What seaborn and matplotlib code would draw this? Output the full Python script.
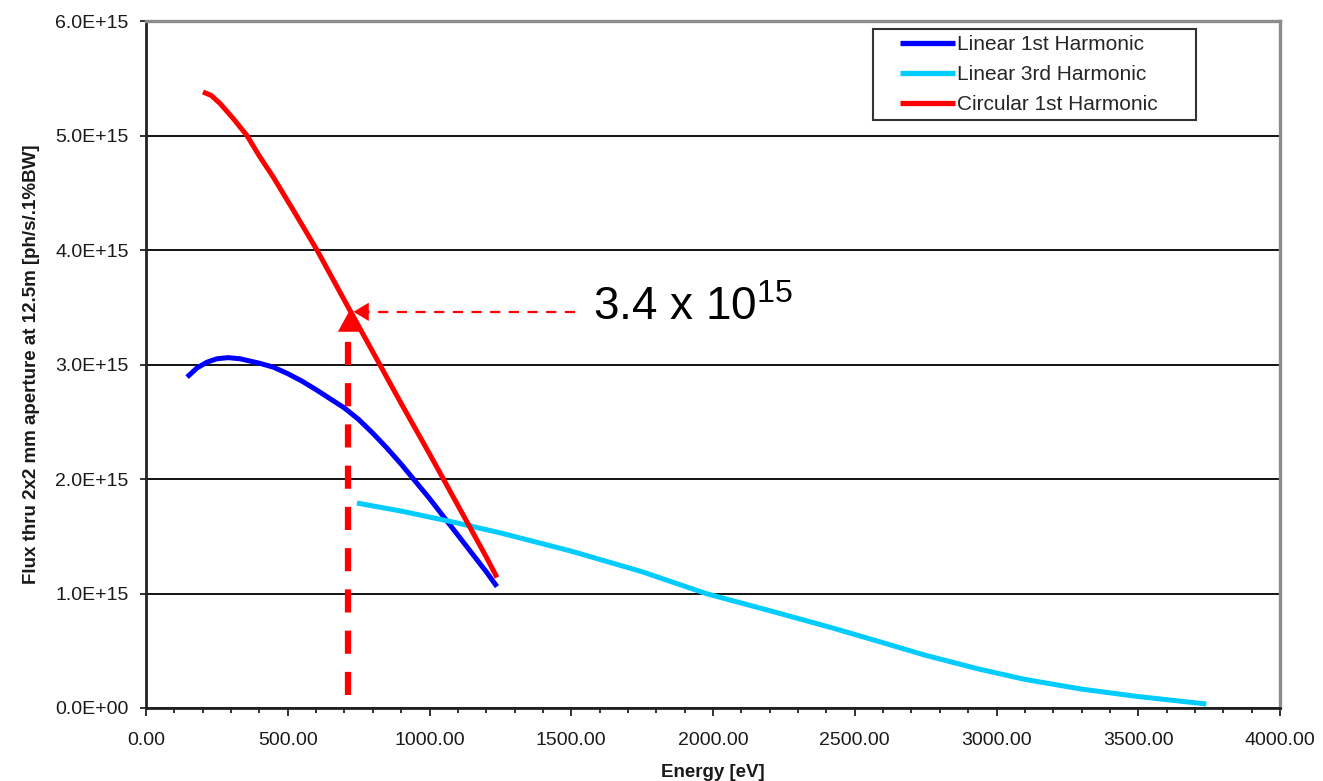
import numpy as np
import pandas as pd
import matplotlib
matplotlib.use("Agg")
import matplotlib.pyplot as plt
from matplotlib.ticker import MultipleLocator, FuncFormatter
from matplotlib.legend_handler import HandlerLine2D
import seaborn as sns

# ---- data ----
lin1_energy = [145, 180, 215, 250, 290, 332, 402, 450, 500, 550, 600, 650, 700, 750, 800, 850, 900, 950, 1000, 1050, 1100, 1150, 1200, 1238]
lin1_flux = [2.89, 2.97, 3.02, 3.05, 3.06, 3.05, 3.01, 2.976, 2.92, 2.855, 2.78, 2.70, 2.62, 2.52, 2.40, 2.27, 2.13, 1.98, 1.83, 1.67, 1.51, 1.35, 1.19, 1.06]

lin3_energy = [744, 900, 1072, 1249, 1390, 1500, 1750, 1975, 2200, 2420, 2586, 2750, 2938, 3100, 3300, 3500, 3740]
lin3_flux = [1.79, 1.72, 1.63, 1.53, 1.44, 1.37, 1.19, 1.00, 0.85, 0.70, 0.58, 0.46, 0.34, 0.25, 0.165, 0.10, 0.035]

circ1_energy = [201, 230, 261, 307, 356, 400, 448, 519, 603, 700, 800, 900, 1000, 1100, 1200, 1238]
circ1_flux = [5.38, 5.35, 5.28, 5.15, 5.00, 4.82, 4.64, 4.35, 4.00, 3.56, 3.11, 2.66, 2.22, 1.77, 1.32, 1.14]

series_names = ["Linear 1st Harmonic", "Linear 3rd Harmonic", "Circular 1st Harmonic"]
series_colors = ["#0000FF", "#00CCFF", "#FF0000"]

ann_energy = 712        # eV, vertical marker
ann_flux = 3.46e15      # flux value pointed at
ann_label_energy = 1513 # start of horizontal dashed line / label
ann_text = r"3.4 x 10$^{\mathregular{15}}$"

x_label = "Energy [eV]"
y_label = "Flux thru 2x2 mm aperture at 12.5m [ph/s/.1%BW]"

scale = 1e15
frames = []
for name, e, f in [(series_names[0], lin1_energy, lin1_flux),
                   (series_names[1], lin3_energy, lin3_flux),
                   (series_names[2], circ1_energy, circ1_flux)]:
    frames.append(pd.DataFrame({"Energy": e, "Flux": np.array(f) * scale, "Series": name}))
df = pd.concat(frames, ignore_index=True)

sns.set_theme(style="white")
plt.rcParams["font.family"] = ["Liberation Sans", "DejaVu Sans"]
plt.rcParams["mathtext.fontset"] = "custom"
plt.rcParams["mathtext.rm"] = "Liberation Sans"

fig = plt.figure(figsize=(13.23, 7.81), dpi=100)
ax = fig.add_axes([146 / 1323, 1 - 708 / 781, 1134 / 1323, 687 / 781])

sns.lineplot(data=df, x="Energy", y="Flux", hue="Series", hue_order=series_names,
             palette=series_colors, linewidth=3.6, estimator=None, sort=False, ax=ax)
for ln in ax.get_lines():
    ln.set_solid_joinstyle("round")
    ln.set_solid_capstyle("butt")

ax.set_xlim(0, 4000)
ax.set_ylim(0, 6e15)
ax.xaxis.set_major_locator(MultipleLocator(500))
ax.xaxis.set_minor_locator(MultipleLocator(100))
ax.yaxis.set_major_locator(MultipleLocator(1e15))
ax.xaxis.set_major_formatter(FuncFormatter(lambda v, p: f"{v:.2f}"))
ax.yaxis.set_major_formatter(FuncFormatter(lambda v, p: f"{v:.1E}"))

ax.grid(axis="y", color="black", linewidth=1.3)
ax.grid(axis="x", visible=False)
ax.set_axisbelow(True)

for side in ["top", "right"]:
    ax.spines[side].set_color("#8c8c8c")
    ax.spines[side].set_linewidth(2.4)
for side in ["left", "bottom"]:
    ax.spines[side].set_color("#222222")
    ax.spines[side].set_linewidth(2.0)

ax.tick_params(axis="both", which="both", direction="out", color="#222222", bottom=True, left=True)
ax.tick_params(axis="x", which="major", length=6, width=1.3, labelsize=14, pad=11, labelcolor="#1a1a1a")
ax.tick_params(axis="x", which="minor", length=3.8, width=1.3)
ax.tick_params(axis="y", which="major", length=4.5, width=1.3, labelsize=14, pad=8, labelcolor="#1a1a1a")

ax.set_xlabel(x_label, fontsize=13.5, fontweight="bold", labelpad=11, color="#1a1a1a")
ax.set_ylabel(y_label, fontsize=13.5, fontweight="bold", labelpad=11, color="#1a1a1a")

# annotation: dashed guides + arrow heads
ax.plot([ann_energy, ann_energy], [0.11e15, ann_flux - 0.16e15], color="red",
        linewidth=4.5, dashes=(3.7, 2.9), dash_capstyle="butt")
ax.plot([ann_label_energy, ann_energy + 30], [ann_flux, ann_flux], color="red",
        linewidth=1.6, dashes=(4.6, 3.8), dash_capstyle="butt")
ax.annotate("", xy=(ann_energy + 8, ann_flux + 0.02e15), xytext=(0, -30), textcoords="offset points",
            arrowprops=dict(arrowstyle="-|>,head_length=1.0,head_width=0.55", mutation_scale=16,
                            color="red", lw=0, shrinkA=0, shrinkB=0))
ax.annotate("", xy=(ann_energy + 20, ann_flux), xytext=(30, 0), textcoords="offset points",
            arrowprops=dict(arrowstyle="-|>,head_length=1.0,head_width=0.6", mutation_scale=11,
                            color="red", lw=0, shrinkA=0, shrinkB=0))
ax.text(ann_label_energy + 65, ann_flux - 0.07e15, ann_text, fontsize=33, color="black",
        va="baseline", ha="left")


class PaddedLineHandler(HandlerLine2D):
    lead = 15.0

    def get_xdata(self, legend, xdescent, ydescent, width, height, fontsize):
        xdata = np.array([-xdescent + self.lead, -xdescent + width])
        return xdata, np.array([-xdescent + 0.5 * width])


leg_handles, leg_labels = ax.get_legend_handles_labels()
leg = ax.legend(leg_handles, leg_labels, loc="upper left",
                bbox_to_anchor=(0.641, 0.0, 0.285, 0.988), mode="expand",
                fontsize=15, frameon=True, fancybox=False, handlelength=3.65,
                handletextpad=0.1, borderpad=0.3, labelspacing=0.52, borderaxespad=0,
                handler_map={h: PaddedLineHandler() for h in leg_handles})
leg.get_frame().set_edgecolor("black")
leg.get_frame().set_linewidth(1.5)
for line in leg.get_lines():
    line.set_linewidth(3.8)
    line.set_solid_capstyle("butt")

fig.savefig("out.png", dpi=100)
